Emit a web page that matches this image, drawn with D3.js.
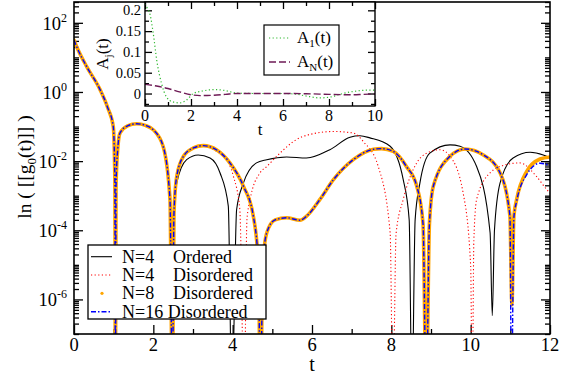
<!DOCTYPE html>
<html lang="en">
<head>
<meta charset="utf-8">
<title>g0(t)</title>
<style>
  body { margin: 0; background: #fff; }
</style>
</head>
<body>
<svg width="572" height="375" font-family="Liberation Serif, DejaVu Serif, serif"></svg>
<script src="https://d3js.org/d3.v7.min.js"></script>
<script>

    // ---- data: [t, g] pairs ----
    var early = [
        [0, 31.6], [0.07, 20], [0.32, 5.4], [0.66, 1.15], [0.85, 0.35], [0.99, 0.1],
        [1.03, 3e-3], [1.045, 1e-9], [1.06, 2e-3], [1.1, 0.02], [1.16, 0.065],
        [1.35, 0.105], [1.58, 0.12], [1.8, 0.108], [2.0, 0.08], [2.25, 0.026],
        [2.42, 7.8e-4], [2.48, 1e-9]
    ];

    var ordered4 = early.concat([
        [2.52, 3e-4], [2.59, 2.3e-3], [2.84, 0.011], [3.13, 0.015], [3.43, 0.0123],
        [3.68, 4.6e-3], [3.89, 5e-4], [3.98, 1e-9], [4.1, 4e-4], [4.27, 2.3e-3],
        [4.6, 8.9e-3], [4.86, 0.011], [5.36, 0.0132], [5.86, 0.0123], [6.45, 0.0214],
        [6.96, 0.049], [7.21, 0.054], [7.46, 0.047], [7.97, 0.027], [8.3, 2.9e-3],
        [8.45, 2e-4], [8.52, 1e-9], [8.6, 2e-4], [8.72, 2.3e-3], [8.97, 0.017],
        [9.48, 0.0295], [9.73, 0.027], [10.15, 7e-3], [10.49, 8.5e-5], [10.545, 3.4e-7],
        [10.6, 1e-4], [10.74, 2.3e-3], [11.07, 0.0123], [11.5, 0.018], [11.83, 0.015],
        [12, 0.0123]
    ]);

    var disordered4 = early.concat([
        [2.52, 3e-4], [2.59, 3.6e-3], [2.76, 0.0138], [3.01, 0.024], [3.26, 0.027],
        [3.6, 0.019], [3.77, 0.0135], [4.02, 3.6e-3], [4.18, 4e-4], [4.29, 1e-9],
        [4.36, 2e-4], [4.44, 7.8e-4], [4.69, 4.6e-3], [4.86, 7e-3], [5.11, 0.0138],
        [5.61, 0.042], [6.12, 0.065], [6.54, 0.072], [7.04, 0.065], [7.3, 0.036],
        [7.67, 7e-3], [7.97, 8.5e-5], [8.04, 1e-9], [8.12, 8e-5], [8.3, 7.8e-4],
        [8.64, 8.9e-3], [8.89, 0.017], [9.23, 0.0214], [9.48, 0.0138], [9.81, 1.2e-3],
        [10.0, 9.3e-6], [10.04, 1e-9], [10.08, 5e-5], [10.15, 7.8e-4], [10.49, 4.6e-3],
        [10.91, 8e-3], [11.24, 8.9e-3], [11.66, 3.6e-3], [11.92, 1.5e-3], [12, 1.2e-3]
    ]);

    var disordered8 = early.concat([
        [2.52, 3e-4], [2.59, 3.6e-3], [2.76, 0.0138], [3.01, 0.024], [3.26, 0.028],
        [3.6, 0.021], [3.93, 8.9e-3], [4.27, 1.9e-3], [4.52, 2.6e-4], [4.65, 1e-5],
        [4.7, 1e-9], [4.76, 1e-5], [4.86, 8.5e-5], [5.07, 2e-4], [5.36, 2.3e-4],
        [5.7, 1.95e-4], [5.87, 2.6e-4], [6.2, 7.8e-4], [6.54, 2.9e-3], [7.04, 0.011],
        [7.55, 0.022], [7.75, 0.023], [8.05, 0.019], [8.38, 7e-3], [8.64, 1.9e-3],
        [8.8, 1.5e-4], [8.88, 1e-9], [8.96, 1.5e-4], [9.06, 1.9e-3], [9.48, 0.0138],
        [9.86, 0.0224], [10.32, 0.0151], [10.74, 4.6e-3], [10.99, 2.6e-4], [11.04, 7e-7],
        [11.09, 2.6e-4], [11.16, 7.8e-4], [11.41, 5e-3], [11.75, 0.0115], [12, 0.0132]
    ]);

    var disordered16 = disordered8.slice(0, disordered8.length - 7).concat([
        [10.99, 2.6e-4], [11.03, 1e-9], [11.09, 2.4e-4], [11.16, 7e-4], [11.41, 4e-3],
        [11.75, 8.7e-3], [12, 7.4e-3]
    ]);

    // inset: A_1(t) and A_N(t)
    var a1 = [
        [0, 0.215], [0.1, 0.205], [0.22, 0.19], [0.36, 0.144], [0.51, 0.08], [0.72, 0.024],
        [0.93, -0.008], [1.2, -0.02], [1.52, -0.0225], [1.8, -0.016], [2.1, 0],
        [2.5, 0.006], [3.0, 0.0095], [3.5, 0.007], [4.0, 0.001], [5, 0], [6, 0],
        [6.5, -0.001], [7, -0.006], [7.6, -0.0105], [8.1, -0.008], [8.6, 0],
        [9.2, 0.006], [9.6, 0.008], [10, 0.008]
    ];
    var aN = [
        [0, 0.022], [0.5, 0.018], [1, 0.012], [1.5, 0.004], [2, -0.003], [2.4, -0.005],
        [3, -0.004], [3.5, -0.002], [4, 0], [5, 0], [6, 0], [7, -0.0005], [8, -0.002],
        [9, -0.003], [9.5, -0.002], [10, -0.001]
    ];

    var xTicks = [0, 2, 4, 6, 8, 10, 12];
    var yTickExp = [-6, -4, -2, 0, 2];
    var insetXTicks = [0, 2, 4, 6, 8, 10];
    var insetYTicks = [0, 0.05, 0.1, 0.15, 0.2];
    var insetYLabels = ["0", "0.05", "0.1", "0.15", "0.2"];

    // ---- layout ----
    var svg = d3.select("svg");
    var L = 74, R = 550, T = 2, B = 334;

    var x = d3.scaleLinear().domain([0, 12]).range([L, R]);
    var y = d3.scaleLog().domain([1e-7, 400]).range([B, T]);

    svg.append("clipPath").attr("id", "clip")
        .append("rect").attr("x", L).attr("y", T).attr("width", R - L).attr("height", B - T);

    // minor log ticks
    var minorY = [];
    for (var e = -7; e <= 2; e++) {
        for (var k = 1; k <= 9; k++) {
            var v = k * Math.pow(10, e);
            if (v > 400 || v < 1e-7) continue;
            if (k === 1 && e % 2 === 0) continue;
            minorY.push(v);
        }
    }
    var majorY = yTickExp.map(function(p) { return Math.pow(10, p); });

    function styleAxis(g) {
        g.select(".domain").remove();
        g.selectAll("line").attr("stroke", "#000").attr("stroke-width", 1.3);
    }

    svg.append("g").attr("transform", "translate(" + L + ",0)")
        .call(d3.axisLeft(y).tickValues(majorY).tickSize(-9).tickFormat(""))
        .call(styleAxis);
    svg.append("g").attr("transform", "translate(" + L + ",0)")
        .call(d3.axisLeft(y).tickValues(minorY).tickSize(-5).tickFormat(""))
        .call(styleAxis);
    svg.append("g").attr("transform", "translate(" + R + ",0)")
        .call(d3.axisRight(y).tickValues(majorY).tickSize(-9).tickFormat(""))
        .call(styleAxis);
    svg.append("g").attr("transform", "translate(" + R + ",0)")
        .call(d3.axisRight(y).tickValues(minorY).tickSize(-5).tickFormat(""))
        .call(styleAxis);

    svg.append("g").attr("transform", "translate(0," + B + ")")
        .call(d3.axisBottom(x).tickValues(xTicks).tickSize(-9).tickFormat(""))
        .call(styleAxis);
    svg.append("g").attr("transform", "translate(0," + B + ")")
        .call(d3.axisBottom(x).tickValues([1, 3, 5, 7, 9, 11]).tickSize(-5).tickFormat(""))
        .call(styleAxis);

    // tick labels
    svg.append("g").selectAll("text").data(xTicks).join("text")
        .attr("x", function(d) { return x(d); })
        .attr("y", 351)
        .attr("text-anchor", "middle")
        .attr("font-size", 18.5)
        .text(function(d) { return d; });

    var yl = svg.append("g").selectAll("text").data(yTickExp).join("text")
        .attr("x", 67)
        .attr("y", function(d) { return y(Math.pow(10, d)) + 7; })
        .attr("text-anchor", "end")
        .attr("font-size", 18.5);
    yl.append("tspan").text("10");
    yl.append("tspan").attr("dy", -8).attr("font-size", 12).text(function(d) { return d; });

    svg.append("text").attr("x", x(6)).attr("y", 371).attr("text-anchor", "middle")
        .attr("font-size", 20).text("t");

    var ylab = svg.append("text")
        .attr("transform", "translate(31," + 167 + ") rotate(-90)")
        .attr("text-anchor", "middle")
        .attr("font-size", 19.5);
    ylab.append("tspan").text("ln ( [[g");
    ylab.append("tspan").attr("dy", 5).attr("font-size", 13).text("0");
    ylab.append("tspan").attr("dy", -5).text("(t)]] )");

    // ---- curves ----
    var line = d3.line()
        .x(function(d) { return x(d[0]); })
        .y(function(d) { return y(d[1]); })
        .curve(d3.curveMonotoneX);

    var plot = svg.append("g").attr("clip-path", "url(#clip)");

    plot.append("path").datum(ordered4).attr("d", line)
        .attr("fill", "none").attr("stroke", "#000").attr("stroke-width", 1.1);
    plot.append("path").datum(disordered4).attr("d", line)
        .attr("fill", "none").attr("stroke", "#ff0000").attr("stroke-width", 1.1)
        .attr("stroke-dasharray", "1.2,2.4");
    plot.append("path").datum(disordered8).attr("d", line)
        .attr("fill", "none").attr("stroke", "#ffa500").attr("stroke-width", 3.6)
        .attr("stroke-linecap", "round");
    plot.append("path").datum(disordered16).attr("d", line)
        .attr("fill", "none").attr("stroke", "#0000ff").attr("stroke-width", 1.4)
        .attr("stroke-dasharray", "5,2,1.5,2");

    // frame
    svg.append("rect").attr("x", L).attr("y", T).attr("width", R - L).attr("height", B - T)
        .attr("fill", "none").attr("stroke", "#000").attr("stroke-width", 1.6);

    // ---- legend ----
    var leg = svg.append("g");
    leg.append("rect").attr("x", 88).attr("y", 245).attr("width", 178).attr("height", 74)
        .attr("fill", "#fff").attr("stroke", "#000").attr("stroke-width", 1.3);
    var rows = [256.7, 275, 293.3, 311.7];
    leg.append("line").attr("x1", 91).attr("x2", 112).attr("y1", rows[0]).attr("y2", rows[0])
        .attr("stroke", "#000").attr("stroke-width", 1.1);
    leg.append("line").attr("x1", 91).attr("x2", 112).attr("y1", rows[1]).attr("y2", rows[1])
        .attr("stroke", "#ff0000").attr("stroke-width", 1.1).attr("stroke-dasharray", "1.2,2.4");
    leg.append("circle").attr("cx", 102).attr("cy", rows[2]).attr("r", 1.6).attr("fill", "#ffa500");
    leg.append("line").attr("x1", 91).attr("x2", 112).attr("y1", rows[3]).attr("y2", rows[3])
        .attr("stroke", "#0000ff").attr("stroke-width", 1.4).attr("stroke-dasharray", "5,2,1.5,2");
    var legA = ["N=4", "N=4", "N=8"];
    var legB = ["Ordered", "Disordered", "Disordered"];
    legA.forEach(function(s, i) {
        leg.append("text").attr("x", 122).attr("y", rows[i] + 6).attr("font-size", 18).text(s);
        leg.append("text").attr("x", 173).attr("y", rows[i] + 6).attr("font-size", 18).text(legB[i]);
    });
    leg.append("text").attr("x", 122).attr("y", rows[3] + 6).attr("font-size", 18).text("N=16 Disordered");

    // ---- inset ----
    var iL = 145, iR = 375, iT = 2, iB = 106;
    var xi = d3.scaleLinear().domain([0, 10]).range([iL, iR]);
    var yi = d3.scaleLinear().domain([-0.03, 0.22]).range([iB, iT]);

    var inset = svg.append("g");
    inset.append("rect").attr("x", iL).attr("y", iT).attr("width", iR - iL).attr("height", iB - iT)
        .attr("fill", "#fff");

    svg.append("clipPath").attr("id", "clipi")
        .append("rect").attr("x", iL).attr("y", iT).attr("width", iR - iL).attr("height", iB - iT);

    var yiMinor = [-0.025, 0.025, 0.075, 0.125, 0.175];
    var xiMinor = [1, 3, 5, 7, 9];
    inset.append("g").attr("transform", "translate(" + iL + ",0)")
        .call(d3.axisLeft(yi).tickValues(insetYTicks).tickSize(-7).tickFormat("")).call(styleAxis);
    inset.append("g").attr("transform", "translate(" + iL + ",0)")
        .call(d3.axisLeft(yi).tickValues(yiMinor).tickSize(-4).tickFormat("")).call(styleAxis);
    inset.append("g").attr("transform", "translate(" + iR + ",0)")
        .call(d3.axisRight(yi).tickValues(insetYTicks).tickSize(-7).tickFormat("")).call(styleAxis);
    inset.append("g").attr("transform", "translate(" + iR + ",0)")
        .call(d3.axisRight(yi).tickValues(yiMinor).tickSize(-4).tickFormat("")).call(styleAxis);
    inset.append("g").attr("transform", "translate(0," + iB + ")")
        .call(d3.axisBottom(xi).tickValues(insetXTicks).tickSize(-7).tickFormat("")).call(styleAxis);
    inset.append("g").attr("transform", "translate(0," + iB + ")")
        .call(d3.axisBottom(xi).tickValues(xiMinor).tickSize(-4).tickFormat("")).call(styleAxis);
    inset.append("g").attr("transform", "translate(0," + iT + ")")
        .call(d3.axisTop(xi).tickValues(insetXTicks).tickSize(-7).tickFormat("")).call(styleAxis);
    inset.append("g").attr("transform", "translate(0," + iT + ")")
        .call(d3.axisTop(xi).tickValues(xiMinor).tickSize(-4).tickFormat("")).call(styleAxis);

    inset.append("g").selectAll("text").data(insetXTicks).join("text")
        .attr("x", function(d) { return xi(d); }).attr("y", 121)
        .attr("text-anchor", "middle").attr("font-size", 16)
        .text(function(d) { return d; });
    inset.append("g").selectAll("text").data(insetYTicks).join("text")
        .attr("x", 141).attr("y", function(d) { return yi(d) + 5; })
        .attr("text-anchor", "end").attr("font-size", 14.5)
        .text(function(d, i) { return insetYLabels[i]; });
    inset.append("text").attr("x", xi(5)).attr("y", 135).attr("text-anchor", "middle")
        .attr("font-size", 17).text("t");
    var ail = inset.append("text")
        .attr("transform", "translate(108,54) rotate(-90)")
        .attr("text-anchor", "middle").attr("font-size", 17);
    ail.append("tspan").text("A");
    ail.append("tspan").attr("dy", 4).attr("font-size", 11).text("j");
    ail.append("tspan").attr("dy", -4).text("(t)");

    var linei = d3.line()
        .x(function(d) { return xi(d[0]); })
        .y(function(d) { return yi(d[1]); })
        .curve(d3.curveMonotoneX);
    var ip = inset.append("g").attr("clip-path", "url(#clipi)");
    ip.append("path").datum(a1).attr("d", linei).attr("fill", "none")
        .attr("stroke", "#2fb82f").attr("stroke-width", 1.2).attr("stroke-dasharray", "1.2,2.4");
    ip.append("path").datum(aN).attr("d", linei).attr("fill", "none")
        .attr("stroke", "#6e1a55").attr("stroke-width", 1.4).attr("stroke-dasharray", "7,3");

    inset.append("rect").attr("x", iL).attr("y", iT).attr("width", iR - iL).attr("height", iB - iT)
        .attr("fill", "none").attr("stroke", "#000").attr("stroke-width", 1.4);

    // inset legend
    inset.append("rect").attr("x", 264).attr("y", 25).attr("width", 75).attr("height", 50)
        .attr("fill", "#fff").attr("stroke", "#000").attr("stroke-width", 1.2);
    inset.append("line").attr("x1", 269).attr("x2", 290).attr("y1", 38).attr("y2", 38)
        .attr("stroke", "#2fb82f").attr("stroke-width", 1.2).attr("stroke-dasharray", "1.2,2.4");
    inset.append("line").attr("x1", 269).attr("x2", 290).attr("y1", 62).attr("y2", 62)
        .attr("stroke", "#6e1a55").attr("stroke-width", 1.4).attr("stroke-dasharray", "7,3");
    var l1 = inset.append("text").attr("x", 297).attr("y", 43).attr("font-size", 17);
    l1.append("tspan").text("A");
    l1.append("tspan").attr("dy", 4).attr("font-size", 11).text("1");
    l1.append("tspan").attr("dy", -4).text("(t)");
    var l2 = inset.append("text").attr("x", 297).attr("y", 67).attr("font-size", 17);
    l2.append("tspan").text("A");
    l2.append("tspan").attr("dy", 4).attr("font-size", 11).text("N");
    l2.append("tspan").attr("dy", -4).text("(t)");

</script>
</body>
</html>
